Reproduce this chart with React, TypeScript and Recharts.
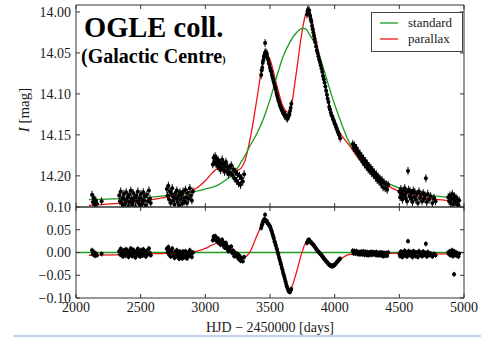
import * as React from 'react'
import { ComposedChart, Line, Scatter, XAxis, YAxis, Legend, ReferenceLine } from 'recharts'

const xTicks = [2000, 2500, 3000, 3500, 4000, 4500, 5000]
const magTicks = [14.0, 14.05, 14.1, 14.15, 14.2]
const resTicks = [-0.1, -0.05, 0, 0.05, 0.1]

// model curves
const modelT = [2100, 2300, 2500, 2700, 2850, 2950, 3000, 3050, 3100, 3150, 3200, 3250, 3300, 3350, 3400, 3450, 3475, 3500, 3550, 3600, 3650, 3700, 3750, 3780, 3800, 3850, 3900, 3950, 4000, 4050, 4100, 4200, 4300, 4400, 4500, 4600, 4700, 4800, 4950]
const standardMag = [14.229, 14.228, 14.227, 14.224, 14.221, 14.218, 14.216, 14.214, 14.211, 14.206, 14.2, 14.19, 14.177, 14.162, 14.148, 14.13, 14.119, 14.107, 14.08, 14.055, 14.038, 14.026, 14.02, 14.021, 14.026, 14.04, 14.062, 14.088, 14.113, 14.135, 14.155, 14.18, 14.197, 14.208, 14.215, 14.22, 14.223, 14.225, 14.227]
const parallaxMag = [14.236, 14.234, 14.231, 14.226, 14.221, 14.213, 14.206, 14.197, 14.19, 14.187, 14.19, 14.193, 14.184, 14.152, 14.105, 14.058, 14.052, 14.058, 14.088, 14.115, 14.123, 14.078, 14.022, 14.001, 13.999, 14.03, 14.068, 14.108, 14.136, 14.15, 14.16, 14.182, 14.199, 14.211, 14.219, 14.224, 14.227, 14.229, 14.231]
const parallaxRes = [-0.006, -0.005, -0.003, -0.002, 0, 0.004, 0.009, 0.016, 0.021, 0.019, 0.01, -0.004, -0.011, 0.004, 0.038, 0.066, 0.07, 0.058, 0.008, -0.043, -0.085, -0.048, 0.003, 0.024, 0.027, 0.013, -0.004, -0.022, -0.026, -0.014, -0.005, -0.002, -0.001, -0.002, -0.002, -0.002, -0.003, -0.003, -0.004]

// observations: time, I magnitude, residual
const obsT = [
  2124, 2131, 2138, 2146, 2153, 2162, 2198,
  2334, 2340, 2346, 2352, 2358, 2364, 2370, 2376, 2382, 2388, 2394, 2400, 2406, 2412, 2418, 2424, 2430, 2436, 2442, 2448, 2454, 2460, 2466, 2472, 2478, 2484, 2490, 2496, 2502, 2508, 2514, 2520, 2526, 2532, 2540, 2548, 2556, 2564, 2572, 2578,
  2702, 2708, 2714, 2720, 2726, 2732, 2738, 2744, 2750, 2756, 2762, 2768, 2774, 2780, 2786, 2792, 2798, 2804, 2810, 2816, 2822, 2828, 2834, 2840, 2846, 2852, 2858, 2864, 2872, 2880, 2888, 2896, 2904,
  3058, 3064, 3070, 3076, 3082, 3088, 3094, 3100, 3106, 3112, 3118, 3124, 3130, 3136, 3142, 3148, 3154, 3160, 3166, 3172, 3178, 3184, 3192, 3200, 3208, 3216, 3224, 3232, 3240, 3248, 3256, 3264, 3272, 3280, 3290, 3300,
  3432, 3436, 3440, 3444, 3448, 3452, 3456, 3460, 3462, 3464, 3468, 3472, 3476, 3480, 3485, 3490, 3495, 3500, 3505, 3510, 3515, 3520, 3525, 3530, 3535, 3540, 3545, 3550, 3555, 3560, 3565, 3570, 3575, 3580, 3585, 3590, 3595, 3600, 3605, 3610, 3615, 3620, 3625, 3630, 3635, 3640, 3645, 3650, 3655, 3660, 3665,
  3786, 3790, 3794, 3798, 3802, 3806, 3810, 3815, 3820, 3825, 3830, 3835, 3840, 3845, 3850, 3856, 3862, 3868, 3874, 3880, 3886, 3892, 3898, 3904, 3910, 3916, 3922, 3928, 3934, 3940, 3946, 3952, 3958, 3964, 3970, 3976, 3982, 3988, 3994, 4000, 4006, 4012, 4018, 4024, 4030, 4036, 4042,
  4140, 4147, 4154, 4161, 4168, 4175, 4182, 4189, 4196, 4203, 4210, 4217, 4224, 4231, 4238, 4245, 4252, 4259, 4266, 4273, 4280, 4287, 4294, 4301, 4308, 4315, 4322, 4329, 4336, 4343, 4350, 4358, 4366, 4374, 4382, 4390, 4398, 4406, 4414,
  4500, 4506, 4512, 4518, 4524, 4530, 4536, 4542, 4548, 4554, 4560, 4567, 4572, 4578, 4584, 4590, 4596, 4602, 4608, 4614, 4620, 4628, 4636, 4644, 4652, 4660, 4668, 4676, 4684, 4692, 4700, 4705, 4712, 4720, 4730, 4742, 4755, 4768, 4780,
  4878, 4885, 4891, 4897, 4903, 4909, 4915, 4921, 4923, 4927, 4933, 4939, 4945, 4951, 4957, 4963,
]
const obsMag = [
  14.223, 14.232, 14.227, 14.235, 14.23, 14.234, 14.231,
  14.224, 14.231, 14.219, 14.233, 14.227, 14.236, 14.222, 14.229, 14.234, 14.22, 14.23, 14.226, 14.237, 14.223, 14.232, 14.218, 14.228, 14.235, 14.221, 14.23, 14.226, 14.238, 14.224, 14.231, 14.219, 14.233, 14.227, 14.236, 14.222, 14.229, 14.234, 14.22, 14.23, 14.225, 14.236, 14.223, 14.231, 14.218, 14.228, 14.233,
  14.216, 14.224, 14.212, 14.229, 14.219, 14.233, 14.222, 14.215, 14.23, 14.226, 14.235, 14.221, 14.228, 14.218, 14.232, 14.225, 14.236, 14.22, 14.229, 14.223, 14.234, 14.219, 14.227, 14.231, 14.217, 14.226, 14.233, 14.221, 14.228, 14.215, 14.224, 14.23, 14.219,
  14.186, 14.178, 14.183, 14.176, 14.185, 14.179, 14.188, 14.181, 14.19, 14.184, 14.193, 14.186, 14.18, 14.191, 14.185, 14.195, 14.188, 14.183, 14.194, 14.189, 14.198, 14.19, 14.196, 14.187, 14.199, 14.192, 14.203, 14.195, 14.206, 14.198, 14.209, 14.2, 14.211, 14.203, 14.207, 14.198,
  14.077, 14.071, 14.068, 14.062, 14.059, 14.055, 14.053, 14.05, 14.038, 14.052, 14.049, 14.053, 14.051, 14.056, 14.058, 14.062, 14.064, 14.068, 14.071, 14.073, 14.077, 14.08, 14.083, 14.086, 14.089, 14.092, 14.095, 14.099, 14.102, 14.105, 14.108, 14.11, 14.113, 14.115, 14.117, 14.119, 14.121, 14.122, 14.124, 14.125, 14.127, 14.126, 14.128, 14.129, 14.13, 14.128, 14.127, 14.125, 14.121, 14.117, 14.112,
  14.003, 13.999, 13.997, 14.0, 13.998, 14.003, 14.005, 14.009, 14.012, 14.017, 14.021, 14.025, 14.029, 14.033, 14.037, 14.042, 14.047, 14.05, 14.054, 14.058, 14.061, 14.065, 14.069, 14.073, 14.078, 14.082, 14.086, 14.091, 14.096, 14.101, 14.106, 14.11, 14.116, 14.119, 14.123, 14.126, 14.128, 14.131, 14.133, 14.136, 14.138, 14.141, 14.143, 14.146, 14.148, 14.15, 14.154,
  14.161, 14.166, 14.163, 14.169, 14.166, 14.172, 14.17, 14.176, 14.173, 14.179, 14.176, 14.183, 14.179, 14.186, 14.182, 14.189, 14.185, 14.192, 14.188, 14.194, 14.19, 14.197, 14.193, 14.199, 14.196, 14.202, 14.198, 14.205, 14.201, 14.207, 14.203, 14.21, 14.205, 14.214, 14.208, 14.215, 14.21, 14.217, 14.211,
  14.219, 14.226, 14.216, 14.222, 14.229, 14.218, 14.224, 14.215, 14.227, 14.22, 14.231, 14.194, 14.217, 14.225, 14.219, 14.228, 14.221, 14.232, 14.218, 14.226, 14.22, 14.229, 14.222, 14.233, 14.219, 14.227, 14.223, 14.231, 14.221, 14.228, 14.224, 14.203, 14.232, 14.222, 14.229, 14.225, 14.233, 14.227, 14.231,
  14.226, 14.231, 14.224, 14.233, 14.228, 14.222, 14.235, 14.229, null, 14.225, 14.232, 14.227, 14.234, 14.229, 14.236, 14.23,
]
const obsRes = [
  0.005, -0.004, 0.001, -0.007, -0.002, -0.006, -0.003,
  0.003, -0.004, 0.008, -0.006, 0.0, -0.009, 0.005, -0.002, -0.007, 0.007, -0.003, 0.001, -0.01, 0.004, -0.005, 0.009, -0.001, -0.008, 0.006, -0.003, 0.001, -0.011, 0.003, -0.004, 0.008, -0.006, 0.0, -0.009, 0.005, -0.002, -0.007, 0.007, -0.003, 0.002, -0.009, 0.004, -0.004, 0.009, -0.001, -0.006,
  0.008, 0.0, 0.012, -0.005, 0.005, -0.009, 0.002, 0.009, -0.007, -0.003, -0.012, 0.002, -0.005, 0.005, -0.01, -0.003, -0.014, 0.002, -0.007, -0.002, -0.013, 0.002, -0.006, -0.01, 0.003, -0.006, -0.013, -0.001, -0.008, 0.005, -0.004, -0.01, 0.0,
  0.027, 0.035, 0.03, 0.036, 0.027, 0.032, 0.023, 0.03, 0.021, 0.026, 0.017, 0.023, 0.028, 0.017, 0.022, 0.011, 0.017, 0.021, 0.009, 0.013, 0.003, 0.011, 0.004, 0.013, -0.001, 0.004, -0.008, -0.001, -0.008, -0.003, -0.014, -0.007, -0.018, -0.012, -0.019, -0.01,
  0.054, 0.059, 0.062, 0.066, 0.069, 0.071, 0.073, 0.072, 0.083, 0.071, 0.07, 0.068, 0.069, 0.065, 0.064, 0.061, 0.06, 0.057, 0.054, 0.049, 0.045, 0.04, 0.035, 0.031, 0.025, 0.021, 0.016, 0.01, 0.006, 0.0, -0.005, -0.011, -0.016, -0.021, -0.026, -0.032, -0.037, -0.043, -0.048, -0.053, -0.058, -0.064, -0.069, -0.074, -0.078, -0.082, -0.085, -0.086, -0.087, -0.083, -0.08,
  0.021, 0.024, 0.027, 0.026, 0.028, 0.025, 0.024, 0.023, 0.022, 0.02, 0.018, 0.017, 0.015, 0.013, 0.011, 0.008, 0.006, 0.004, 0.002, 0.0, -0.002, -0.004, -0.006, -0.008, -0.01, -0.013, -0.015, -0.017, -0.019, -0.021, -0.023, -0.025, -0.027, -0.028, -0.029, -0.03, -0.029, -0.03, -0.028, -0.027, -0.025, -0.023, -0.021, -0.019, -0.017, -0.015, -0.014,
  0.004, -0.002, 0.003, -0.002, 0.003, -0.003, 0.001, -0.004, 0.001, -0.004, 0.002, -0.004, 0.002, -0.005, 0.001, -0.005, 0.001, -0.006, 0.0, -0.005, 0.001, -0.005, 0.001, -0.004, 0.0, -0.005, 0.001, -0.006, -0.001, -0.006, 0.0, -0.006, 0.0, -0.008, -0.001, -0.007, -0.001, -0.007, 0.0,
  -0.003, -0.008, 0.002, -0.004, -0.01, 0.001, -0.005, 0.004, -0.007, -0.001, -0.009, 0.025, 0.003, -0.005, 0.001, -0.007, 0.0, -0.01, 0.003, -0.005, 0.001, -0.008, 0.0, -0.01, 0.003, -0.005, -0.001, -0.008, 0.002, -0.005, -0.001, 0.019, -0.009, 0.001, -0.006, -0.002, -0.009, -0.003, -0.006,
  0.0, -0.004, 0.003, -0.006, -0.001, 0.005, -0.008, -0.002, -0.048, 0.002, -0.005, 0.0, -0.007, -0.002, -0.009, -0.003,
]

const modelData = modelT.map((t, i) => ({ t, standard: standardMag[i], parallax: parallaxMag[i], res: parallaxRes[i] }))
const obsTop = obsT.map((t, i) => ({ t, m: obsMag[i] })).filter((d) => d.m !== null)
const obsBottom = obsT.map((t, i) => ({ t, r: obsRes[i] }))

const serif = '"Liberation Serif", "DejaVu Serif", serif'
const spine = '#333'
const green = '#1f9a1f'
const red = '#f01414'
const tickStyle = { fill: '#1a1a1a', fontSize: 14, fontFamily: serif }

const fmtMag = (v: number) => v.toFixed(2)
const fmtRes = (v: number) => v.toFixed(2).replace('-', '\u2212')
const noLabel = () => ''

function TopPoint(props: any) {
  const { cx, cy } = props
  if (cx == null || cy == null) return null
  return (
    <g>
      <line x1={cx} x2={cx} y1={cy - 4} y2={cy + 4} stroke="#000" strokeWidth={1} />
      <circle cx={cx} cy={cy} r={2} fill="#000" />
    </g>
  )
}

function BottomPoint(props: any) {
  const { cx, cy } = props
  if (cx == null || cy == null) return null
  return (
    <g>
      <line x1={cx} x2={cx} y1={cy - 2.5} y2={cy + 2.5} stroke="#000" strokeWidth={1} />
      <circle cx={cx} cy={cy} r={2} fill="#000" />
    </g>
  )
}

function MagLabel(props: any) {
  const vb = props.viewBox || { x: 0, y: 5, width: 76, height: 202 }
  const x = vb.x + 24
  const y = vb.y + vb.height / 2 + 4
  return (
    <text x={x} y={y} transform={`rotate(-90, ${x}, ${y})`} textAnchor="middle" dominantBaseline="central"
      fontFamily={serif} fontSize={15} fill="#1a1a1a">
      <tspan fontStyle="italic">I</tspan> [mag]
    </text>
  )
}

function LegendBox() {
  const rows = [
    { name: 'standard', color: green },
    { name: 'parallax', color: red },
  ]
  return (
    <div style={{ width: 90, height: 36, border: '1px solid #444', background: '#fff', paddingTop: 2, boxSizing: 'content-box', fontFamily: serif, fontSize: 13, color: '#1a1a1a' }}>
      {rows.map((r) => (
        <div key={r.name} style={{ height: 16, display: 'flex', alignItems: 'center' }}>
          <svg width={36} height={16}>
            <line x1={8} x2={26} y1={8} y2={8} stroke={r.color} strokeWidth={1.3} />
          </svg>
          <span>{r.name}</span>
        </div>
      ))}
    </div>
  )
}

export default function App(): React.ReactElement {
  return (
    <div style={{ position: 'absolute', left: 0, top: 0, width: 481, height: 338, background: '#fff', overflow: 'hidden' }}>
      <div style={{ position: 'absolute', left: 0, top: 0 }}>
        <ComposedChart width={481} height={212} margin={{ top: 4, right: 16, bottom: 4, left: 0 }}>
          <XAxis xAxisId="b" type="number" dataKey="t" domain={[2000, 5000]} ticks={xTicks} interval={0}
            height={1} tickSize={-4} tickFormatter={noLabel} stroke={spine} allowDataOverflow />
          <XAxis xAxisId="t" orientation="top" type="number" dataKey="t" domain={[2000, 5000]} ticks={xTicks} interval={0}
            height={1} tickSize={-4} tickFormatter={noLabel} stroke={spine} allowDataOverflow />
          <YAxis yAxisId="l" type="number" domain={[13.9915, 14.238]} reversed ticks={magTicks} interval={0}
            width={76} tickSize={-4} tickMargin={9} tick={tickStyle} tickFormatter={fmtMag} stroke={spine}
            allowDataOverflow label={<MagLabel />} />
          <YAxis yAxisId="r" orientation="right" type="number" domain={[13.9915, 14.238]} reversed ticks={magTicks} interval={0}
            width={1} tickSize={-4} tickFormatter={noLabel} stroke={spine} allowDataOverflow />
          <Line xAxisId="b" yAxisId="l" data={modelData} dataKey="parallax" type="monotone" stroke={red}
            strokeWidth={1.3} dot={false} isAnimationActive={false} />
          <Scatter xAxisId="b" yAxisId="l" data={obsTop} dataKey="m" shape={<TopPoint />} isAnimationActive={false} />
          <Line xAxisId="b" yAxisId="l" data={modelData} dataKey="standard" type="monotone" stroke={green}
            strokeWidth={1.3} dot={false} isAnimationActive={false} />
          <Legend content={<LegendBox />} layout="horizontal" verticalAlign="middle" align="center"
            wrapperStyle={{ top: 12, left: 371, width: 'auto' }} />
        </ComposedChart>
      </div>
      <div style={{ position: 'absolute', left: 0, top: 200 }}>
        <ComposedChart width={481} height={138} margin={{ top: 6, right: 16, bottom: 0, left: 0 }}>
          <XAxis xAxisId="b" type="number" dataKey="t" domain={[2000, 5000]} ticks={xTicks} interval={0}
            height={40} tickSize={-4} tickMargin={8} tick={tickStyle} stroke={spine} allowDataOverflow
            label={{ value: 'HJD \u2212 2450000 [days]', position: 'insideBottom', offset: 6, fill: '#1a1a1a', fontSize: 14, fontFamily: serif }} />
          <XAxis xAxisId="t" orientation="top" type="number" dataKey="t" domain={[2000, 5000]} ticks={xTicks} interval={0}
            height={1} tickSize={-4} tickFormatter={noLabel} stroke={spine} allowDataOverflow />
          <YAxis yAxisId="l" type="number" domain={[-0.1, 0.1]} ticks={resTicks} interval={0}
            width={76} tickSize={-4} tickMargin={9} tick={tickStyle} tickFormatter={fmtRes} stroke={spine} allowDataOverflow />
          <YAxis yAxisId="r" orientation="right" type="number" domain={[-0.1, 0.1]} ticks={resTicks} interval={0}
            width={1} tickSize={-4} tickFormatter={noLabel} stroke={spine} allowDataOverflow />
          <ReferenceLine xAxisId="b" yAxisId="l" y={0} stroke={green} strokeWidth={1.3} />
          <Line xAxisId="b" yAxisId="l" data={modelData} dataKey="res" type="monotone" stroke={red}
            strokeWidth={1.3} dot={false} isAnimationActive={false} />
          <Scatter xAxisId="b" yAxisId="l" data={obsBottom} dataKey="r" shape={<BottomPoint />} isAnimationActive={false} />
        </ComposedChart>
      </div>
      <svg width={481} height={338} style={{ position: 'absolute', left: 0, top: 0, pointerEvents: 'none' }}>
        <text x={84} y={37} fontFamily={serif} fontWeight="bold" fontSize={28.5} fill="#000">OGLE coll.</text>
        <text x={81} y={63} fontFamily={serif} fontWeight="bold" fontSize={20} fill="#000">
          (Galactic Centre<tspan fontSize={10}>)</tspan>
        </text>
      </svg>
      <div style={{ position: 'absolute', left: 13, top: 335, width: 468, height: 2, background: '#c3d3ec' }} />
    </div>
  )
}
